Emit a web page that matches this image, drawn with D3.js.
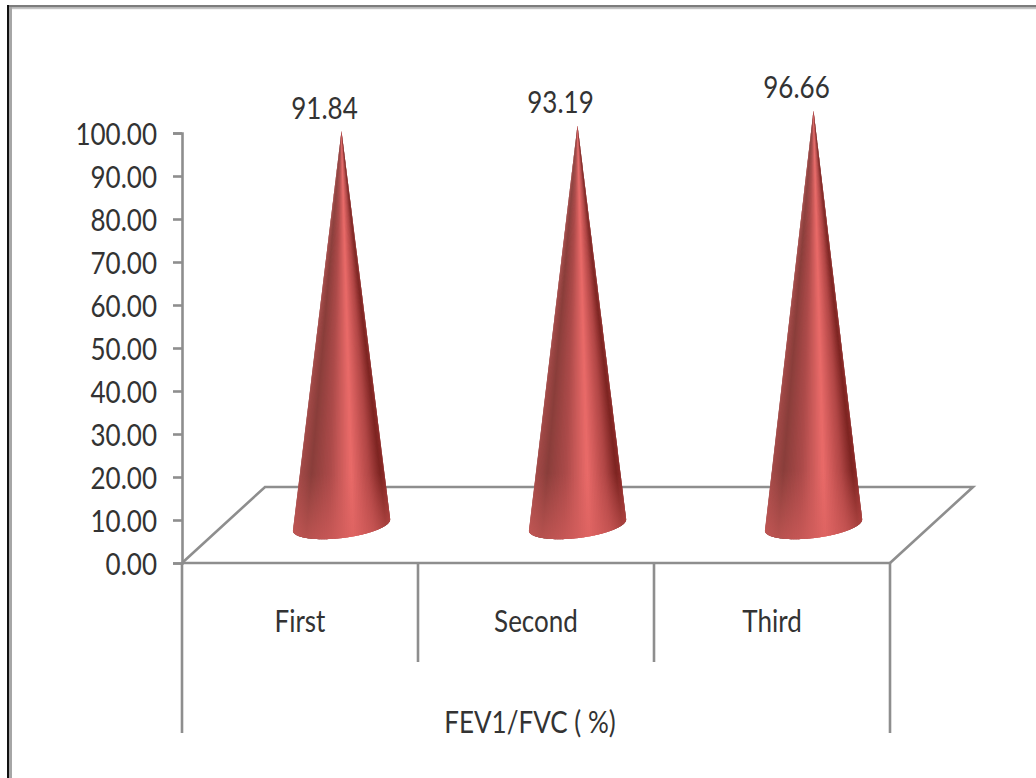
<!DOCTYPE html>
<html>
<head>
<meta charset="utf-8">
<style>
  html, body { margin: 0; padding: 0; background: #fff; }
  svg { display: block; }
  text { font-family: Lato, "Noto Sans", sans-serif; fill: #333; }
</style>
<script src="https://cdn.jsdelivr.net/npm/d3@7/dist/d3.min.js"></script>
</head>
<body>
<svg id="chart" width="1036" height="778"></svg>
<script>
const categories = ["First", "Second", "Third"];
const values = [91.84, 93.19, 96.66];
const groupLabel = "FEV1/FVC ( %)";
const tickValues = [0, 10, 20, 30, 40, 50, 60, 70, 80, 90, 100];

const svg = d3.select("#chart");
const lineColor = "#8e8e8e";
const fontSize = 31, narrow = 0.84;

const x = d3.scaleBand().domain(categories).range([182, 890]);
const y = d3.scaleLinear().domain([0, 100]).range([563, 133]);

// Floor depth of the 3-D plot area
const depthX = 83, depthY = -76;

const defs = svg.append("defs");
// Lighter glow along the lower rim of each cone
const rimGlow = defs.append("linearGradient").attr("id", "rimGlow")
  .attr("x1", 0).attr("x2", 0).attr("y1", 0).attr("y2", 1);
rimGlow.append("stop").attr("offset", 0.84).attr("stop-color", "#d65f5d").attr("stop-opacity", 0);
rimGlow.append("stop").attr("offset", 1).attr("stop-color", "#d65f5d").attr("stop-opacity", 0.6);

// Window frame: top and left edges only
svg.append("rect").attr("x", 7).attr("y", 5).attr("width", 1029).attr("height", 2.6).attr("fill", "#7c7c7c");
svg.append("rect").attr("x", 9).attr("y", 7.6).attr("width", 1027).attr("height", 1.6).attr("fill", "#c4c4c4");
svg.append("rect").attr("x", 7).attr("y", 5).attr("width", 2).attr("height", 773).attr("fill", "#111");
svg.append("rect").attr("x", 9).attr("y", 7).attr("width", 3).attr("height", 771).attr("fill", "#a6a6a6");

// Floor parallelogram
const [x0, x1] = x.range();
const floor = d3.path();
floor.moveTo(x0, y(0));
floor.lineTo(x0 + depthX, y(0) + depthY);
floor.lineTo(x1 + depthX, y(0) + depthY);
floor.lineTo(x1, y(0));
svg.append("path").attr("d", floor.toString())
  .attr("fill", "none").attr("stroke", lineColor).attr("stroke-width", 2.6);

// Value axis
const yAxis = d3.axisLeft(y).tickValues(tickValues).tickSize(9).tickPadding(0)
  .tickFormat(d3.format(".2f"));
const axisG = svg.append("g").attr("transform", `translate(${x0},0)`).call(yAxis);
axisG.select(".domain").attr("stroke", lineColor).attr("stroke-width", 2.6);
axisG.selectAll(".tick line").attr("stroke", lineColor).attr("stroke-width", 2.6);
axisG.selectAll(".tick text")
  .attr("x", 0).attr("dy", null)
  .attr("transform", `translate(-25,11.5) scale(${narrow},1)`)
  .attr("font-size", fontSize).attr("fill", "#333")
  .style("font-family", "Lato, sans-serif");

// Front baseline and the two-level category dividers
svg.append("line").attr("x1", x0).attr("x2", x1).attr("y1", y(0)).attr("y2", y(0))
  .attr("stroke", lineColor).attr("stroke-width", 2.6);
const dividers = [
  { at: x0, end: 733 },
  { at: x.step() + x0, end: 662 },
  { at: 2 * x.step() + x0, end: 662 },
  { at: x1, end: 733 }
];
svg.selectAll(".divider").data(dividers).join("line").attr("class", "divider")
  .attr("x1", d => d.at).attr("x2", d => d.at)
  .attr("y1", y(0)).attr("y2", d => d.end)
  .attr("stroke", lineColor).attr("stroke-width", 2.6);

// Condensed text placed at an anchor point
function narrowText(parent, tx, ty, str) {
  return parent.append("text")
    .attr("transform", `translate(${tx},${ty}) scale(${narrow},1)`)
    .attr("text-anchor", "middle").attr("font-size", fontSize).text(str);
}

// Category labels
categories.forEach(c => narrowText(svg, x(c) + x.bandwidth() / 2, 632, c));
narrowText(svg, 530, 733, groupLabel);

// Cone shading runs around the surface, so each cone is a fan of narrow wedges
const shade = d3.scaleLinear()
  .domain([0, 0.12, 0.35, 0.6, 0.82, 0.95, 1])
  .range(["#a34a48", "#8a3e3b", "#ad4b4a", "#ea6b69", "#b04645", "#7d2522", "#8c2a28"]);

const coneR = 49, coneRy = 13, tilt = -7 * Math.PI / 180, wedges = 80;
const floorMidX = depthX / 2, floorMidY = depthY / 2;

function rimPoint(cx, cy, a) {
  const ex = coneR * Math.cos(a), ey = coneRy * Math.sin(a);
  return [cx + ex * Math.cos(tilt) - ey * Math.sin(tilt),
          cy + ex * Math.sin(tilt) + ey * Math.cos(tilt)];
}

const cones = categories.map((c, i) => ({ c, v: values[i] }));
const coneG = svg.selectAll(".cone").data(cones).join("g").attr("class", "cone");
coneG.each(function (d) {
  const g = d3.select(this);
  const cx = x(d.c) + x.bandwidth() / 2 + floorMidX;
  const cy = y(0) + floorMidY;
  const tip = [cx, y(d.v) + floorMidY + 1];
  const pieces = d3.range(wedges).map(k => k / wedges);
  const shadeAt = t => shade((1 - Math.cos(Math.PI * (t + 0.5 / wedges))) / 2);
  g.selectAll("path.wedge").data(pieces).join("path").attr("class", "wedge")
    .attr("d", t => {
      // a runs from the left rim (pi) round the front to the right rim (0);
      // every wedge reaches under its neighbour so no seams show
      const a0 = Math.PI * (1 - t), a1 = Math.max(0, Math.PI * (1 - t - 2.5 / wedges));
      const arc = d3.range(5).map(s => rimPoint(cx, cy, a0 + (a1 - a0) * s / 4));
      return d3.line()([tip, ...arc]) + "Z";
    })
    .attr("fill", shadeAt);
  // Whole silhouette, used for the rim glow
  const outline = d3.range(41).map(s => rimPoint(cx, cy, Math.PI * (1 - s / 40)));
  g.append("path").attr("d", d3.line()([tip, ...outline]) + "Z").attr("fill", "url(#rimGlow)");
  // Value label above the tip
  narrowText(g, cx - 17, tip[1] - 12, d3.format(".2f")(d.v));
});
</script>
</body>
</html>
